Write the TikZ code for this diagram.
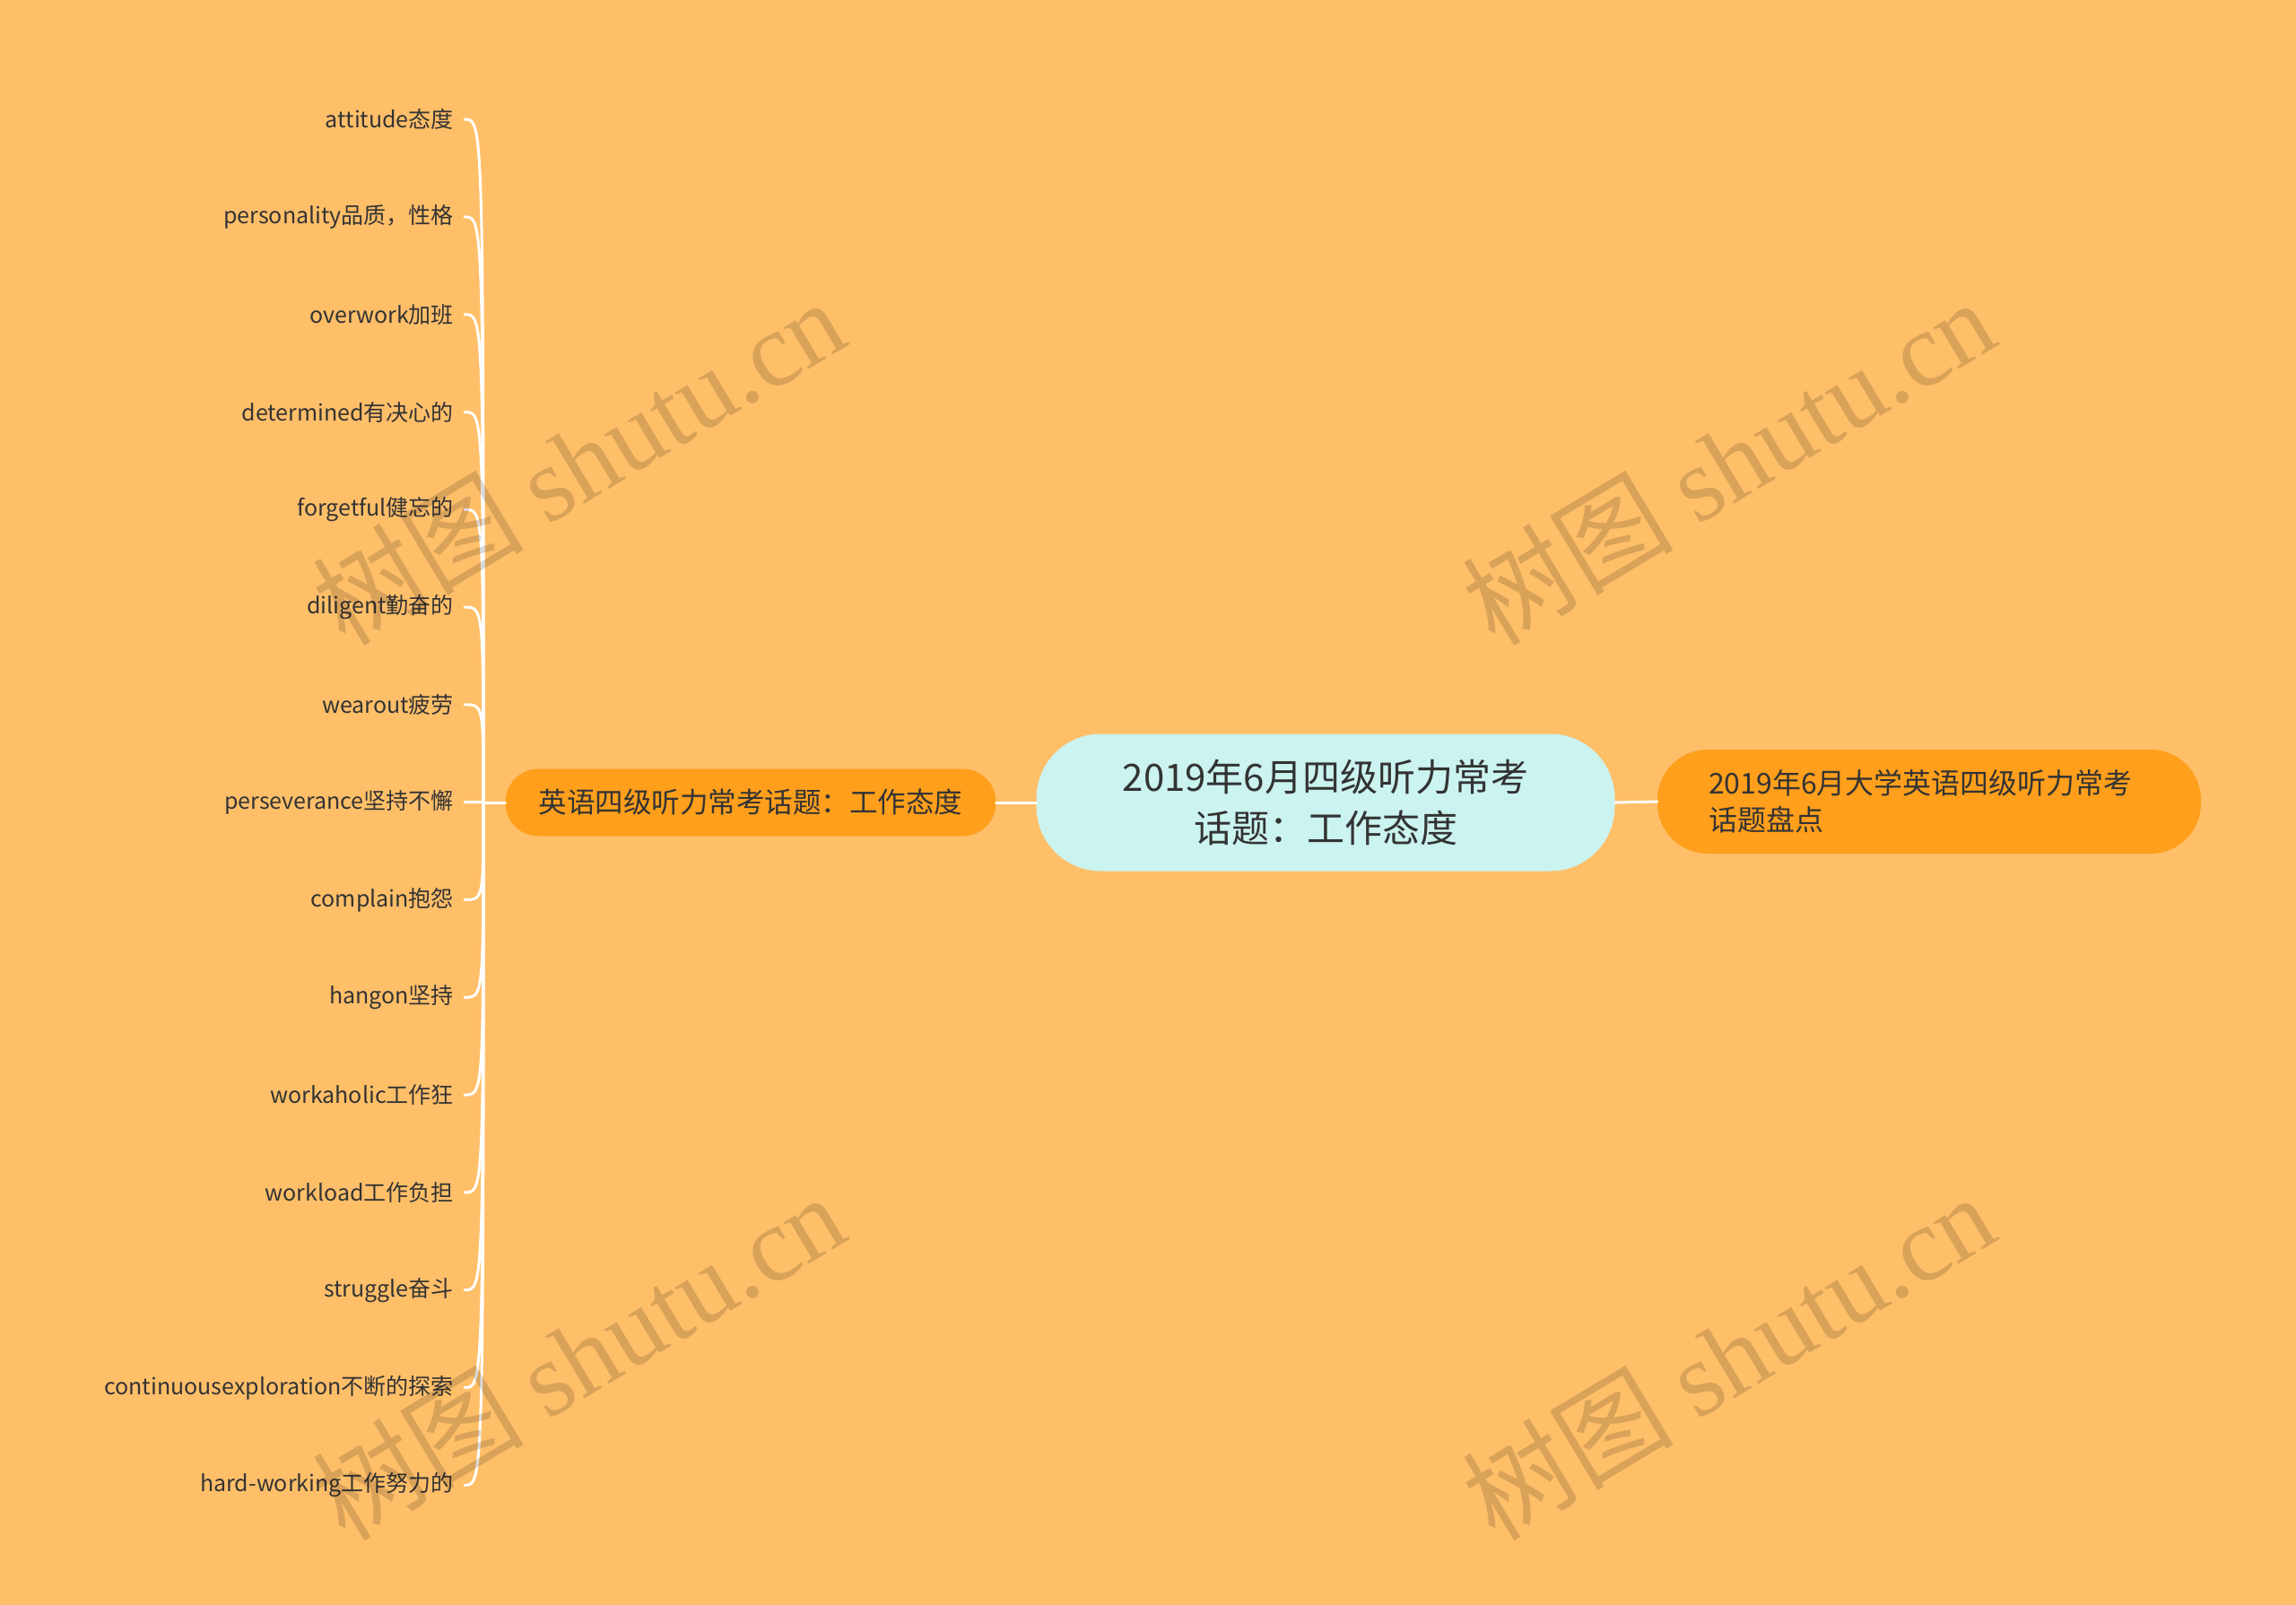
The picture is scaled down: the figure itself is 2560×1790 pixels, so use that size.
\documentclass[tikz,border=0pt]{standalone}
\usepackage{fontspec}
\setmainfont{Noto Sans CJK SC}
\newfontfamily\wmserif{Liberation Serif}
\definecolor{bg}{HTML}{FFBF69}
\definecolor{pill}{HTML}{FF9F1C}
\definecolor{core}{HTML}{CBF3F0}
\definecolor{ink}{HTML}{333333}
\begin{document}
\begin{tikzpicture}[x=1pt,y=-1pt,
  leaf/.style={anchor=east, inner xsep=12pt, inner ysep=0pt, text=ink,
    font=\fontsize{25}{30}\selectfont},
  branch/.style={draw=white, line width=3pt, line cap=round},
  corebox/.style={fill=core, text=ink, align=center, minimum width=645pt,
    minimum height=153pt, rounded corners=72pt, inner sep=0pt,
    font=\fontsize{42}{57}\selectfont},
  pillbox/.style={fill=pill, text=ink, inner ysep=0pt},
  wm/.style={text=black, opacity=0.15, rotate=31,
    font=\fontsize{118}{118}\selectfont}
]
\fill[bg] (0,0) rectangle (2560,1790);
\useasboundingbox (0,0) rectangle (2560,1790);

\node[corebox] (C) at (1478,895) {2019年6月四级听力常考\\话题：工作态度};
\node[pillbox, minimum width=547pt, minimum height=75pt, rounded corners=37pt,
  font=\fontsize{31.5}{38}\selectfont] (L) at (837,895) {英语四级听力常考话题：工作态度};
\node[pillbox, minimum width=606pt, minimum height=116pt, rounded corners=56pt,
  text width=492pt, align=left, inner xsep=57pt,
  font=\fontsize{32}{41}\selectfont] (R) at (2151,894)
  {2019年6月大学英语四级听力常考\\话题盘点};

\draw[branch] (C.west) -- (L.east);
\draw[branch] (C.east) -- (R.west);

\coordinate (trunk) at (539,895);
\draw[branch] (L.west) -- (trunk);

\foreach \t [count=\i] in {attitude态度, personality品质，性格, overwork加班,
  determined有决心的, forgetful健忘的, diligent勤奋的, wearout疲劳,
  perseverance坚持不懈, complain抱怨, hangon坚持, workaholic工作狂,
  workload工作负担, struggle奋斗, continuousexploration不断的探索,
  hard-working工作努力的}{
  \pgfmathsetmacro\yy{894.7+(\i-8)*108.8}
  \node[leaf] (c\i) at (518,\yy) {\t};
  \draw[branch] (trunk) .. controls (trunk |- c\i.east) .. (c\i.east);
}

\node[wm] (w1) at (645,514) {树图 {\wmserif shutu.cn}};
\node[wm] (w2) at (1927,514) {树图 {\wmserif shutu.cn}};
\node[wm] (w3) at (645,1512) {树图 {\wmserif shutu.cn}};
\node[wm] (w4) at (1927,1512) {树图 {\wmserif shutu.cn}};
\end{tikzpicture}
\end{document}
